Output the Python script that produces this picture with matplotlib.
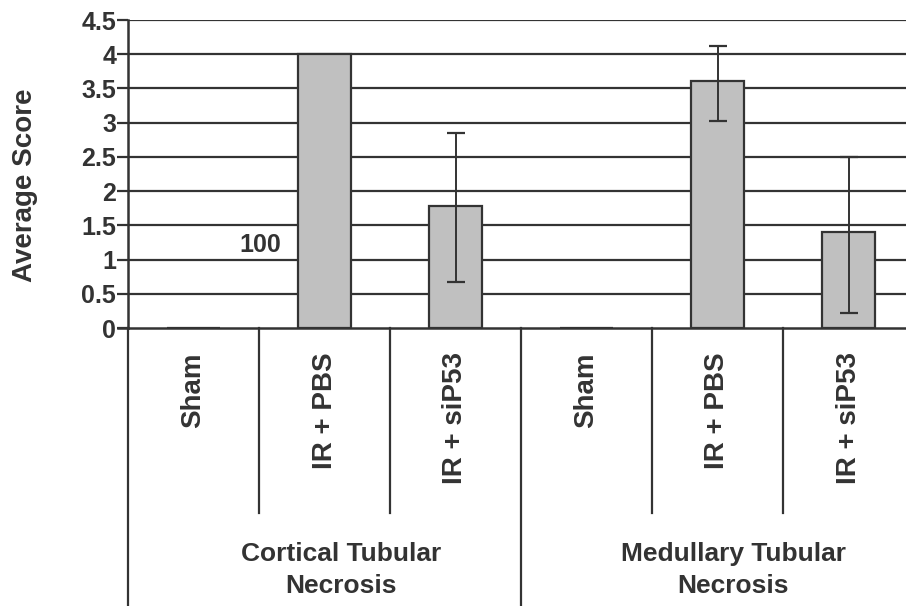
import matplotlib
matplotlib.use("Agg")
import matplotlib.pyplot as plt
import numpy as np

# Tubular necrosis scores per treatment group
groups = ["Cortical Tubular\nNecrosis", "Medullary Tubular\nNecrosis"]
treatments = ["Sham", "IR + PBS", "IR + siP53"]
scores = [0.0, 4.0, 1.78, 0.0, 3.61, 1.40]
err_low = [0.0, 0.0, 0.67, 0.0, 3.03, 0.22]
err_high = [0.0, 0.0, 2.85, 0.0, 4.12, 2.50]
has_err = [False, False, True, False, True, True]
yticks = [0, 0.5, 1, 1.5, 2, 2.5, 3, 3.5, 4, 4.5]
ytick_labels = ["0", "0.5", "1", "1.5", "2", "2.5", "3", "3.5", "4", "4.5"]
note_text = "100"

ink = "#333333"
bar_fill = "#c0c0c0"
plt.rcParams["font.family"] = ["Liberation Sans", "DejaVu Sans"]

W, H = 906, 606
fig = plt.figure(figsize=(W / 100, H / 100), dpi=100)
left_px, right_px, top_px, base_px = 128, 906, 20, 328
ax = fig.add_axes([left_px / W, (H - base_px) / H,
                   (right_px - left_px) / W, (base_px - top_px) / H])

slot = 131.0
x_max = (right_px - left_px) / slot - 0.5
ax.set_xlim(-0.5, x_max)
ax.set_ylim(0, 4.5)

# horizontal grid
for v in yticks[1:]:
    ax.axhline(v, color=ink, lw=1.6, zorder=1)

x = np.arange(len(scores))
ax.bar(x, scores, width=0.41, color=bar_fill, edgecolor=ink, linewidth=1.6, zorder=2)

ex = [xi for xi, h in zip(x, has_err) if h]
ey = [s for s, h in zip(scores, has_err) if h]
lo = [s - l for s, l, h in zip(scores, err_low, has_err) if h]
hi = [u - s for s, u, h in zip(scores, err_high, has_err) if h]
ax.errorbar(ex, ey, yerr=[lo, hi], fmt="none", ecolor=ink, elinewidth=1.4,
            capsize=6.5, capthick=1.6, zorder=3)

ax.text(0.51, 1.21, note_text, ha="center", va="center", fontsize=18,
        fontweight="bold", color=ink, zorder=4)

# axes styling
for side in ["top", "right"]:
    ax.spines[side].set_visible(False)
ax.spines["left"].set_color(ink)
ax.spines["left"].set_linewidth(1.8)
ax.spines["bottom"].set_color(ink)
ax.spines["bottom"].set_linewidth(1.8)
ax.set_xticks([])
ax.set_yticks(yticks)
ax.set_yticklabels(ytick_labels, fontsize=18, fontweight="bold", color=ink)
ax.tick_params(axis="y", length=8, width=1.6, color=ink, pad=0.5)

fig.text(25 / W, 1 - 185 / H, "Average Score", rotation=90, ha="center",
         va="center", fontsize=20, fontweight="bold", color=ink)

# category table below the axis
trans = ax.get_xaxis_transform()
span = base_px - top_px
def frac(ypix):
    return (base_px - ypix) / span

# extend the zero line leftwards past the spine
ax.plot([-0.5 - 10 / slot, -0.5], [0, 0], color=ink, lw=1.8, clip_on=False, zorder=5)

for b in [1, 2, 4, 5]:
    ax.plot([b - 0.5, b - 0.5], [0, frac(513)], transform=trans, color=ink,
            lw=1.6, clip_on=False)
for b in [-0.5, 2.5]:
    ax.plot([b, b], [0, frac(H + 5)], transform=trans, color=ink,
            lw=1.6, clip_on=False)

for i in range(len(scores)):
    ax.text(x[i], frac(352), treatments[i % 3], transform=trans, rotation=90,
            ha="center", va="top", fontsize=20, fontweight="bold", color=ink)

for g, gx in enumerate([1.126, 4.12]):
    ax.text(gx, frac(570), groups[g], transform=trans, ha="center", va="center",
            fontsize=19, fontweight="bold", color=ink, linespacing=1.4)

fig.savefig("out.png", dpi=100)
